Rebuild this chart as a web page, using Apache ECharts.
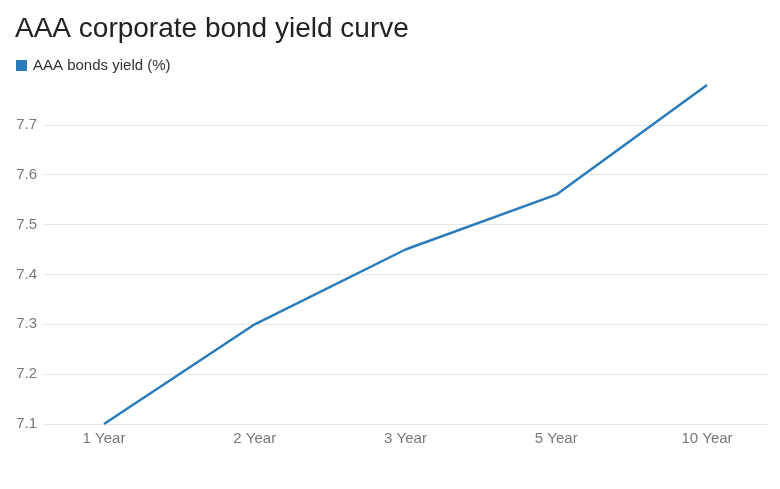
<!DOCTYPE html>
<html>
<head>
<meta charset="utf-8">
<script src="https://cdn.jsdelivr.net/npm/echarts@6/dist/echarts.min.js"></script>
<style>html,body{margin:0;padding:0;background:#fff;}#chart{width:780px;height:489px;}</style>
</head>
<body>
<div id="chart"></div>
<script>
const titleText = "AAA corporate bond yield curve";
const seriesName = "AAA bonds yield (%)";
const categories = ["1 Year", "2 Year", "3 Year", "5 Year", "10 Year"];
const yields = [7.10, 7.30, 7.45, 7.56, 7.78];
const yMin = 7.1, yMax = 7.8, yStep = 0.1;

const font = "'Liberation Sans', Arial, sans-serif";
const gridColors = [];
for (let i = 0; i < 7; i++) gridColors.push('#e6e6e6');
gridColors.push('rgba(0,0,0,0)');

const chart = echarts.init(document.getElementById('chart'));
chart.setOption({
  animation: false,
  textStyle: { fontFamily: font },
  title: {
    text: titleText, left: 10, top: 10,
    textStyle: { fontSize: 28, fontWeight: 'normal', color: '#222', fontFamily: font }
  },
  legend: {
    left: 11, top: 53, icon: 'rect', itemWidth: 11, itemHeight: 11, itemGap: 10,
    textStyle: { fontSize: 15, color: '#333', fontFamily: font, padding: [0,0,0,1] },
    data: [seriesName]
  },
  grid: [
    { left: 43, right: 13, top: 75, bottom: 65 },
    { left: 104, right: 73, top: 75, bottom: 65 }
  ],
  xAxis: [
    { type: 'value', gridIndex: 0, min: 0, max: 1, show: false },
    { type: 'category', gridIndex: 1, data: categories, boundaryGap: false,
      axisLine: { show: false }, axisTick: { show: false },
      axisLabel: { color: '#777', fontSize: 15, margin: 7, fontFamily: font } }
  ],
  yAxis: [
    { type: 'value', gridIndex: 0, min: yMin, max: yMax, interval: yStep,
      axisLine: { show: false }, axisTick: { show: false },
      axisLabel: { color: '#777', fontSize: 15, margin: 6, showMaxLabel: false, fontFamily: font,
        formatter: v => v.toFixed(1) },
      splitLine: { show: true, lineStyle: { color: gridColors, width: 1 } } },
    { type: 'value', gridIndex: 1, min: yMin, max: yMax, interval: yStep, show: false,
      splitLine: { show: false } }
  ],
  series: [{
    name: seriesName, type: 'line', xAxisIndex: 1, yAxisIndex: 1,
    data: yields, showSymbol: false, symbol: 'none',
    itemStyle: { color: '#2b7bba' },
    lineStyle: { color: '#2b7bba', width: 2.5 }
  }]
});
</script>
</body>
</html>
